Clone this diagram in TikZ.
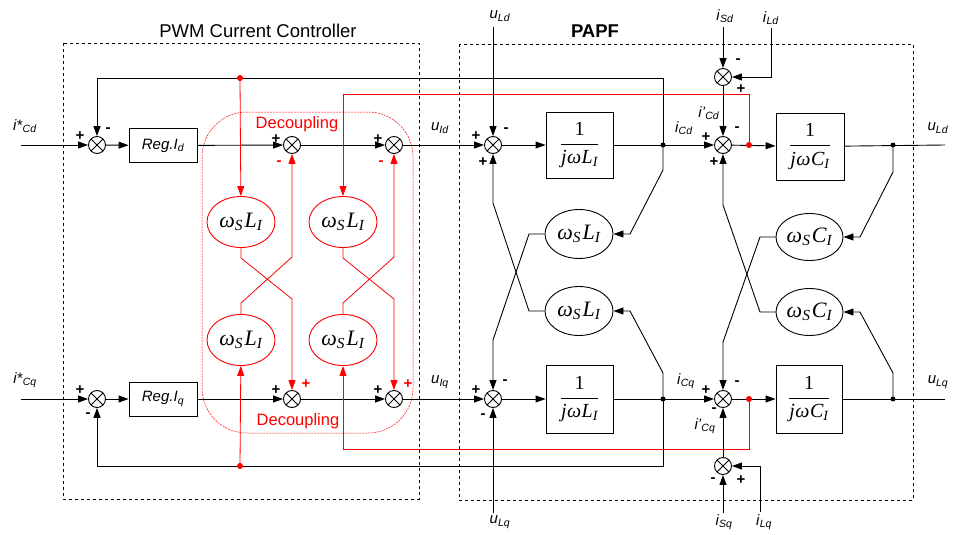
\documentclass[tikz,border=0pt]{standalone}
\usepackage{fontspec}
\setmainfont{Liberation Sans}
\newfontfamily\tms{Liberation Serif}
\usetikzlibrary{arrows.meta,shapes.geometric}
\newcommand{\lb}[2]{\textit{#1}\textsubscript{\textit{#2}}}
\newcommand{\wsx}[1]{{\tms\itshape ω\textsubscript{S}\hspace{1.5pt}#1\textsubscript{I}}}
\newcommand{\frx}[1]{$\displaystyle\frac{\hbox{\tms 1}}{\hbox{\tms\itshape j\hspace{0.5pt}ω\hspace{0.5pt}#1\textsubscript{I}}}$}
\begin{document}
\begin{tikzpicture}[x=1pt,y=-1pt,
  ln/.style={line width=0.9pt},
  rl/.style={line width=0.8pt, red},
  arr/.style={-{Triangle[length=10pt,width=7pt]}},
  sumj/.style={circle, draw, line width=0.9pt, minimum size=17pt, inner sep=0pt,
    path picture={\draw[line width=0.8pt] (path picture bounding box.north west)--(path picture bounding box.south east) (path picture bounding box.north east)--(path picture bounding box.south west);}},
  blk/.style={draw, line width=0.9pt, inner sep=0pt},
  regbox/.style={blk, minimum width=68pt, minimum height=34pt, font=\fontsize{15}{17}\selectfont\itshape},
  frbox/.style={blk, minimum width=67pt, minimum height=67pt, font=\fontsize{20}{22}\selectfont},
  ell/.style={ellipse, draw, line width=0.9pt, minimum width=68pt, minimum height=49pt, inner sep=0pt, font=\fontsize{22}{24}\selectfont},
  rell/.style={ell, draw=red, minimum height=51pt},
  sg/.style={font=\fontsize{15}{15}\selectfont\bfseries, inner sep=0pt},
  rsg/.style={sg, text=red},
  lbl/.style={font=\fontsize{15}{17}\selectfont, inner sep=0pt},
  dotb/.style={circle, fill=black, inner sep=0pt, minimum size=5pt},
  dotr/.style={circle, fill=red, inner sep=0pt, minimum size=6pt},
]
\useasboundingbox (0,0) rectangle (953,535);
% frames
\draw[dashed, line width=0.6pt] (63,43) rectangle (419,499);
\draw[dashed, line width=0.6pt] (459,44) rectangle (913,500);
\draw[red, dash pattern=on 2pt off 1pt, line width=0.5pt, rounded corners=45pt] (202,112) rectangle (413,433);
\node[font=\fontsize{18.5}{20}\selectfont] (t1) at (258,31) {PWM Current Controller};
\node[font=\fontsize{18.5}{20}\selectfont\bfseries] (t2) at (595,31) {PAPF};
\node[font=\fontsize{16.5}{18}\selectfont, text=red, inner sep=0pt] (dc1) at (297,124) {Decoupling};
\node[font=\fontsize{16.5}{18}\selectfont, text=red, inner sep=0pt] (dc2) at (298,421) {Decoupling};

% ---------- row d ----------
\coordinate (ind) at (21,145);
\node[sumj] (s1d) at (97,145) {};
\node[regbox] (regd) at (163,145.5) {Reg.I\textsubscript{d}};
\node[sumj] (s2d) at (292,145) {};
\node[sumj] (s3d) at (394,145) {};
\node[sumj] (s4d) at (493,145) {};
\node[frbox, minimum height=66pt] (Ld) at (579.5,145) {\frx{L}};
\coordinate (dLd) at (663,145);
\node[sumj] (s5d) at (723,145) {};
\coordinate (rd) at (749,145);
\node[frbox, minimum width=68pt] (Cd) at (810,146.5) {\frx{C}};
\coordinate (dCd) at (893,145);
\coordinate (outd) at (945,145);
\node[sumj] (s6d) at (723,77) {};

% ---------- row q ----------
\coordinate (inq) at (21,399);
\node[sumj] (s1q) at (97,399) {};
\node[regbox] (regq) at (163,399) {Reg.I\textsubscript{q}};
\node[sumj] (s2q) at (292,399) {};
\node[sumj] (s3q) at (394,399) {};
\node[sumj] (s4q) at (493,399) {};
\node[frbox, minimum height=68pt] (Lq) at (579.5,399) {\frx{L}};
\coordinate (dLq) at (663,399);
\node[sumj] (s5q) at (723,399) {};
\coordinate (rq) at (749,399);
\node[frbox, minimum width=66pt, minimum height=68pt] (Cq) at (809,399) {\frx{C}};
\coordinate (dCq) at (893,399);
\coordinate (outq) at (945,399);
\node[sumj] (s6q) at (723,466) {};

% main lines
\draw[ln,arr] (ind) -- (s1d);
\draw[ln,arr] (s1d) -- (regd);
\draw[ln,arr] (regd) -- (s2d);
\draw[ln,arr] (s2d) -- (s3d);
\draw[ln,arr] (s3d) -- (s4d);
\draw[ln,arr] (s4d) -- (Ld);
\draw[ln,arr] (Ld) -- (s5d);
\draw[ln,arr] (s5d) -- (Cd);
\draw[ln] (Cd) -- (outd);
\draw[ln,arr] (inq) -- (s1q);
\draw[ln,arr] (s1q) -- (regq);
\draw[ln,arr] (regq) -- (s2q);
\draw[ln,arr] (s2q) -- (s3q);
\draw[ln,arr] (s3q) -- (s4q);
\draw[ln,arr] (s4q) -- (Lq);
\draw[ln,arr] (Lq) -- (s5q);
\draw[ln,arr] (s5q) -- (Cq);
\draw[ln] (Cq) -- (outq);

% feedback loops
\coordinate (fd1) at (663,78); \coordinate (fd2) at (97,78);
\coordinate (fq1) at (663,466); \coordinate (fq2) at (97,466);
\coordinate (rfd) at (240,78); \coordinate (rfq) at (240,466);
\draw[ln,arr] (dLd) -- (fd1) -- (fd2) -- (s1d);
\draw[ln,arr] (dLq) -- (fq1) -- (fq2) -- (s1q);

% external inputs
\coordinate (uLdt) at (493,27); \coordinate (uLqb) at (493,513);
\draw[ln,arr] (uLdt) -- (s4d);
\draw[ln,arr] (uLqb) -- (s4q);
\coordinate (iSdt) at (723,27); \coordinate (iLdt) at (771,28); \coordinate (iLdc) at (771,77);
\draw[ln,arr] (iSdt) -- (s6d);
\draw[ln,arr] (iLdt) -- (iLdc) -- (s6d);
\draw[ln,arr] (s6d) -- (s5d);
\coordinate (iSqb) at (723,513); \coordinate (iLqb) at (760,512); \coordinate (iLqc) at (760,466);
\draw[ln,arr] (iSqb) -- (s6q);
\draw[ln,arr] (iLqb) -- (iLqc) -- (s6q);
\draw[ln,arr] (s6q) -- (s5q);

% decoupling (red)
\node[rell] (e1) at (241,222) {\wsx{L}};
\node[rell] (e2) at (343,222) {\wsx{L}};
\node[rell] (e3) at (241,340) {\wsx{L}};
\node[rell] (e4) at (343,340) {\wsx{L}};
\draw[rl,arr] (rfd) -- (e1);
\draw[rl,arr] (e1.south) -- (241,258) -- (292,299) -- (s2q);
\draw[rl,arr] (e3.north) -- (241,303) -- (292,257) -- (s2d);
\draw[rl,arr] (rfq) -- (e3);
\draw[rl,arr] (rd) -- (749,94) -- (343,94) -- (e2);
\draw[rl,arr] (e2.south) -- (343,258) -- (394,299) -- (s3q);
\draw[rl,arr] (e4.north) -- (343,303) -- (394,257) -- (s3d);
\draw[rl,arr] (rq) -- (749,449) -- (343,449) -- (e4);

% PAPF cross couplings
\node[ell] (pL1) at (579,234) {\wsx{L}};
\node[ell] (pL2) at (579,311) {\wsx{L}};
\node[ell, minimum width=67pt, minimum height=47pt] (pC1) at (809.5,237) {\wsx{C}};
\node[ell, minimum width=67pt, minimum height=47pt] (pC2) at (809.5,312) {\wsx{C}};
\draw[ln,arr] (dLd) -- (663,170) -- (630,234) -- (pL1);
\draw[ln,arr] (pL1.west) -- (529,234) -- (493,340) -- (s4q);
\draw[ln,arr] (dLq) -- (663,373) -- (630,311) -- (pL2);
\draw[ln,arr] (pL2.west) -- (529,311) -- (493,203) -- (s4d);
\draw[ln,arr] (dCd) -- (893,172) -- (860,237) -- (pC1);
\draw[ln,arr] (pC1.west) -- (760,237) -- (723,342) -- (s5q);
\draw[ln,arr] (dCq) -- (893,373) -- (860,312) -- (pC2);
\draw[ln,arr] (pC2.west) -- (760,312) -- (723,205) -- (s5d);

% dots
\node[dotb] (ndLd) at (dLd) {};
\node[dotb] (ndLq) at (dLq) {};
\node[dotb] (ndCd) at (dCd) {};
\node[dotb] (ndCq) at (dCq) {};
\node[dotr] (nrd) at (rd) {};
\node[dotr] (nrq) at (rq) {};
\node[dotr] (nrfd) at (rfd) {};
\node[dotr] (nrfq) at (rfq) {};

% signal labels
\node[lbl] (l1) at (25,126) {\textit{i*}\textsubscript{\textit{Cd}}};
\node[lbl] (l2) at (25,380) {\textit{i*}\textsubscript{\textit{Cq}}};
\node[lbl] (l3) at (440,128) {\lb{u}{Id}};
\node[lbl] (l4) at (440,382) {\lb{u}{Iq}};
\node[lbl] (l5) at (500,16) {\lb{u}{Ld}};
\node[lbl] (l6) at (500,522) {\lb{u}{Lq}};
\node[lbl] (l7) at (725,16) {\lb{i}{Sd}};
\node[lbl] (l8) at (771,18) {\lb{i}{Ld}};
\node[lbl] (l9) at (709,113) {\lb{i'}{Cd}};
\node[lbl] (l10) at (684,128) {\lb{i}{Cd}};
\node[lbl] (l11) at (938,128) {\lb{u}{Ld}};
\node[lbl] (l12) at (686,381) {\lb{i}{Cq}};
\node[lbl] (l13) at (705,426) {\lb{i'}{Cq}};
\node[lbl] (l14) at (938,382) {\lb{u}{Lq}};
\node[lbl] (l15) at (724,522) {\lb{i}{Sq}};
\node[lbl] (l16) at (764,522) {\lb{i}{Lq}};

% signs
\node[sg] (g1) at (80,136) {+};
\node[sg] (g2) at (108,130) {-};
\node[sg] (g3) at (80,390) {+};
\node[sg] (g4) at (88,415) {-};
\node[sg] (g5) at (276,139) {+};
\node[rsg] (g6) at (279,163) {-};
\node[sg] (g7) at (378,139) {+};
\node[rsg] (g8) at (381,163) {-};
\node[sg] (g9) at (276,390) {+};
\node[rsg] (g10) at (306,384) {+};
\node[sg] (g11) at (378,390) {+};
\node[rsg] (g12) at (408,384) {+};
\node[sg] (g13) at (476,136) {+};
\node[sg] (g14) at (506,130) {-};
\node[sg] (g15) at (483,162) {+};
\node[sg] (g16) at (476,390) {+};
\node[sg] (g17) at (505,382) {-};
\node[sg] (g18) at (483,416) {-};
\node[sg] (g19) at (738,61) {-};
\node[sg] (g20) at (741,89) {+};
\node[sg] (g21) at (706,137) {+};
\node[sg] (g22) at (737,129) {-};
\node[sg] (g23) at (714,162) {+};
\node[sg] (g24) at (706,390) {+};
\node[sg] (g25) at (737,383) {-};
\node[sg] (g26) at (714,410) {-};
\node[sg] (g27) at (713,480) {-};
\node[sg] (g28) at (741,480) {+};
\end{tikzpicture}
\end{document}
